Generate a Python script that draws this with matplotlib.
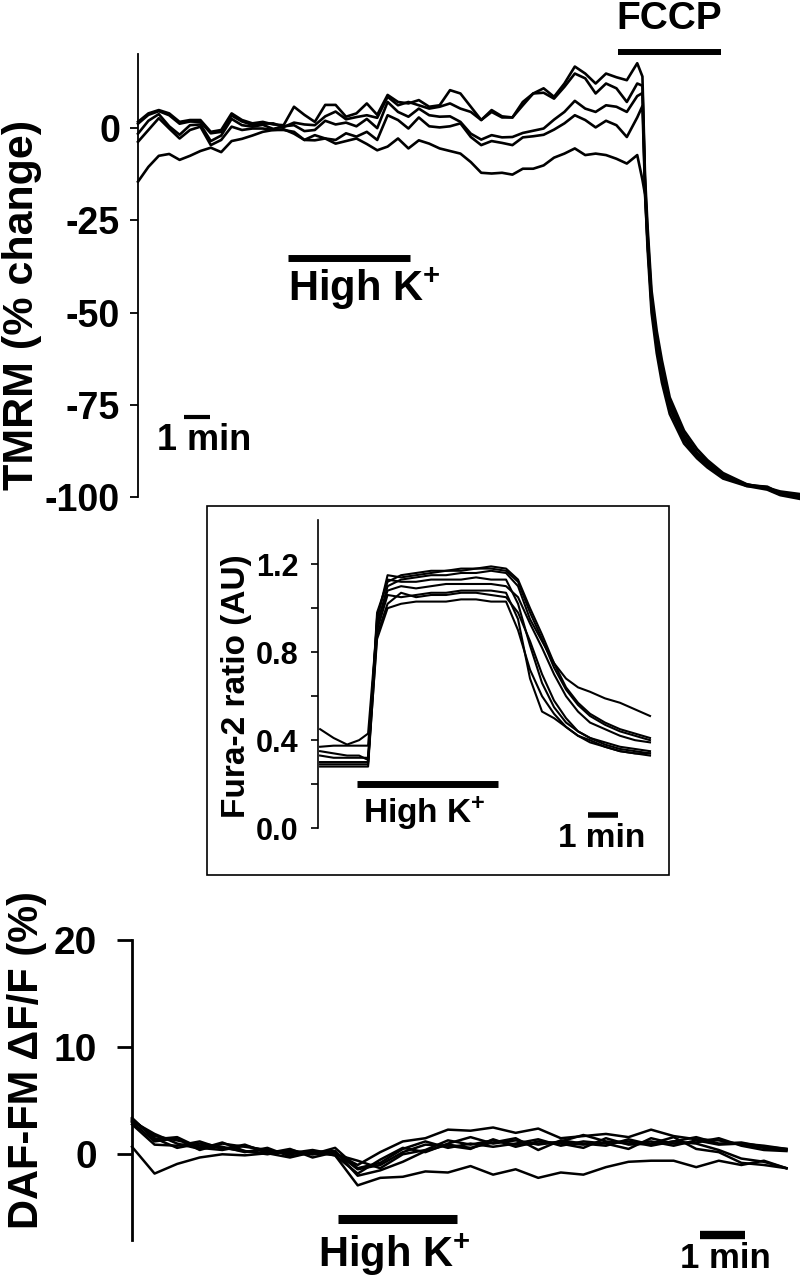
import matplotlib
matplotlib.use('Agg')
import matplotlib.pyplot as plt
from matplotlib.patches import Rectangle

plt.rcParams['font.family'] = ['Liberation Sans', 'DejaVu Sans']
plt.rcParams['font.weight'] = 'bold'
plt.rcParams['axes.unicode_minus'] = False
plt.rcParams['mathtext.fontset'] = 'custom'
plt.rcParams['mathtext.rm'] = 'Liberation Sans:bold'
plt.rcParams['mathtext.bf'] = 'Liberation Sans:bold'
plt.rcParams['mathtext.it'] = 'Liberation Sans:bold'

# ---------------- TMRM (top panel) ----------------
tmrm_time = [0.0, 0.4, 0.8, 1.2, 1.6, 2.0, 2.4, 2.8, 3.2, 3.6, 4.0, 4.4, 4.8, 5.2, 5.6,
             6.0, 6.4, 6.8, 7.2, 7.6, 8.0, 8.4, 8.8, 9.2, 9.6, 10.0, 10.4, 10.8, 11.2,
             11.6, 12.0, 12.4, 12.8, 13.2, 13.6, 14.0, 14.4, 14.8, 15.2, 15.6, 16.0,
             16.4, 16.8, 17.2, 17.6, 18.0, 18.4, 18.8, 19.2, 19.4, 19.5, 19.6, 19.75,
             19.95, 20.15, 20.45, 21.0, 21.5, 21.9, 22.5, 23.4, 24.2, 24.7, 25.45]
tmrm_a = [1.7, 4.0, 4.9, 4.0, 1.7, 2.2, 2.2, -1.0, -0.5, 4.0, 2.2, 1.3, 1.7, 1.0, 0.8, 5.8, 3.6, 1.7, 6.3, 6.3, 3.1, 4.0, 6.7, 3.6,
          9.0, 7.1, 6.7, 7.6, 5.8, 6.2, 10.3, 9.4, 5.8, 2.2, 4.9, 3.2, 2.9, 7.1, 9.4, 10.8, 8.5, 12.1, 16.7, 14.8, 12.1, 14.8, 13.8, 13.0, 17.6,
          14.0, -13, -27, -44, -55, -63, -73, -82, -87, -90, -93.5, -96.5, -97.8, -99.3, -100.0]
tmrm_b = [1.2, 3.6, 4.6, 3.5, 1.2, 1.8, 1.7, -1.4, -1.0, 3.4, 1.8, 0.9, 1.2, 1.3, 0.3, 1.5, 1.0, 0.8, 3.2, 4.5, 2.4, 3.0, 3.5, 2.8,
          8.5, 6.2, 7.1, 6.2, 5.3, 5.8, 6.7, 5.3, 4.4, 2.2, 4.4, 2.9, 2.9, 6.2, 9.4, 9.6, 8.0, 11.2, 14.8, 13.5, 9.4, 12.1, 10.8, 7.1, 12.1,
          11.5, -15, -29, -46, -57, -65, -74, -83, -88, -90.5, -94, -97, -98, -99.5, -100.5]
tmrm_c = [-1.5, 2.0, 3.8, 0.5, -1.8, 0.8, 1.0, -3.5, -2.0, 2.5, 0.8, 0.4, 0.9, -0.2, 0.5, 0.8, -0.8, -0.5, 2.0, 1.0, 1.5, 0.5, 2.5, 0.0,
          7.1, 4.4, 3.1, 5.3, 3.5, 3.1, 3.2, 1.7, -1.5, -3.1, -1.9, -2.5, -2.4, -1.3, -0.7, -0.1, 2.3, 4.4, 7.4, 5.3, 4.4, 6.2, 5.8, 4.4, 8.7,
          9.5, -16, -31, -48, -59, -67, -76, -84.5, -89, -91.5, -94.5, -96.8, -97.2, -99, -99.5]
tmrm_d = [-3.7, -0.5, 2.7, -0.1, -2.8, -0.5, 0.4, -4.6, -3.2, 0.4, -0.5, -0.1, -0.1, -0.5, -0.5, -1.0, -3.2, -1.9, -2.8, -3.2, -1.4, -2.3, -1.0, -3.2,
          3.5, 2.2, -0.1, 2.9, 0.5, 0.2, 0.5, 1.3, -2.4, -4.6, -3.5, -4.0, -4.6, -2.5, -2.2, -1.8, -0.4, 1.3, 3.5, 2.2, 0.2, 2.0, 0.8, -2.4, 2.9,
          6.0, -17, -33, -50, -61, -69, -77.5, -85.5, -89.5, -92, -95, -97, -97.5, -98.5, -99.2]
tmrm_e = [-14.5, -10.5, -7.5, -7.0, -8.6, -7.5, -6.2, -5.3, -6.5, -3.5, -2.9, -2.0, -1.0, -0.5, -0.3, -1.5, -3.2, -3.3, -2.8, -4.2, -3.5, -2.8, -4.3, -6.0,
          -5.0, -2.8, -5.5, -3.3, -4.2, -5.5, -6.2, -6.9, -9.2, -12.1, -12.3, -12.1, -12.6, -11.0, -11.0, -10.1, -8.0, -6.9, -5.5, -7.3, -6.9, -7.3, -8.3, -9.6, -7.3,
          -14.0, -18, -31, -47, -58, -66, -75, -84, -88.5, -91, -94, -96.6, -97.4, -99, -99.8]
tmrm_traces = [tmrm_a, tmrm_b, tmrm_c, tmrm_d, tmrm_e]
tmrm_ticks = [0, -25, -50, -75, -100]
tmrm_highk = [5.77, 10.46]
tmrm_fccp = [18.46, 22.42]
tmrm_scale = [1.77, 2.77]

# ---------------- Fura-2 (inset) ----------------
fura_time = [0, 0.45, 0.9, 1.3, 1.6, 1.9, 2.25, 2.7, 3.2, 3.7, 4.2, 4.7, 5.2, 5.7,
             6.2, 6.6, 7.0, 7.4, 7.8, 8.2, 8.6, 9.0, 9.5, 10.0, 10.5, 11.0]
fura_s1 = [0.30, 0.30, 0.30, 0.30, 0.30, 0.98, 1.12, 1.15, 1.16, 1.17, 1.17, 1.18, 1.18, 1.19,
           1.18, 1.13, 1.00, 0.88, 0.75, 0.64, 0.57, 0.52, 0.48, 0.45, 0.43, 0.41]
fura_s2 = [0.29, 0.29, 0.29, 0.29, 0.29, 0.95, 1.15, 1.14, 1.15, 1.16, 1.17, 1.17, 1.18, 1.18,
           1.17, 1.12, 0.98, 0.86, 0.73, 0.63, 0.56, 0.51, 0.47, 0.44, 0.42, 0.40]
fura_s3 = [0.37, 0.375, 0.375, 0.375, 0.375, 0.92, 1.10, 1.13, 1.14, 1.15, 1.15, 1.16, 1.16, 1.17,
           1.16, 1.10, 0.95, 0.85, 0.75, 0.68, 0.64, 0.62, 0.59, 0.57, 0.54, 0.51]
fura_s4 = [0.45, 0.41, 0.38, 0.40, 0.43, 0.93, 1.08, 1.10, 1.09, 1.10, 1.11, 1.11, 1.11, 1.11,
           1.10, 1.05, 0.93, 0.82, 0.70, 0.60, 0.53, 0.48, 0.45, 0.42, 0.40, 0.39]
fura_f1 = [0.33, 0.32, 0.32, 0.32, 0.32, 0.90, 1.06, 1.05, 1.06, 1.07, 1.07, 1.08, 1.08, 1.08,
           1.07, 0.95, 0.68, 0.53, 0.50, 0.46, 0.42, 0.40, 0.37, 0.35, 0.34, 0.33]
fura_f2 = [0.35, 0.34, 0.33, 0.33, 0.31, 0.96, 1.13, 1.12, 1.12, 1.13, 1.13, 1.13, 1.14, 1.13,
           1.13, 1.02, 0.83, 0.66, 0.55, 0.48, 0.44, 0.41, 0.38, 0.36, 0.35, 0.34]
fura_f3 = [0.28, 0.28, 0.28, 0.28, 0.28, 0.88, 1.02, 1.07, 1.05, 1.06, 1.06, 1.07, 1.07, 1.06,
           1.05, 0.98, 0.85, 0.70, 0.58, 0.50, 0.44, 0.41, 0.39, 0.37, 0.36, 0.35]
fura_f4 = [0.30, 0.30, 0.30, 0.30, 0.30, 0.86, 1.00, 1.02, 1.03, 1.03, 1.03, 1.04, 1.04, 1.03,
           1.03, 0.90, 0.72, 0.60, 0.52, 0.46, 0.42, 0.39, 0.37, 0.35, 0.34, 0.34]
fura_traces = [fura_s1, fura_s2, fura_s3, fura_s4, fura_f1, fura_f2, fura_f3, fura_f4]
fura_ticks = [0.0, 0.4, 0.8, 1.2]
fura_ticklabels = ['0.0', '0.4', '0.8', '1.2']
fura_minor = [0.2, 0.6, 1.0]
fura_highk = [1.23, 5.93]
fura_scale = [8.93, 9.93]

# ---------------- DAF-FM (bottom panel) ----------------
daf_time = [0.0, 0.5, 1.0, 1.5, 2.0, 2.5, 3.0, 3.5, 4.0, 4.5, 5.0, 5.5, 6.0, 6.5, 7.0,
            7.5, 8.0, 8.5, 9.0, 9.5, 10.0, 10.5, 11.0, 11.5, 12.0, 12.5, 13.0, 13.5, 14.0, 14.5]
daf_1 = [3.2, 1.7, 1.3, 0.8, 0.6, 0.3, 0.1, 0.2, 0.0, 0.1, -1.0, 0.2, 1.2, 1.5, 2.3,
         2.2, 2.5, 2.0, 2.4, 1.5, 1.7, 1.9, 1.6, 2.3, 1.7, 1.4, 1.3, 0.9, 0.6, 0.4]
daf_2 = [3.0, 1.2, 1.5, 0.4, 1.0, 0.7, 0.4, 0.0, 0.3, -0.1, -1.8, -0.5, 0.6, 0.2, 1.0,
         1.6, 1.0, 1.3, 0.9, 1.2, 1.8, 1.2, 1.0, 1.2, 0.8, 1.3, 0.9, 1.0, 0.8, 0.5]
daf_3 = [2.8, 0.9, 0.8, 1.2, 0.5, 0.9, 0.1, 0.5, -0.3, 0.2, -1.4, -1.0, 0.2, 0.9, 0.8,
         0.5, 1.4, 0.7, 1.2, 1.0, 0.6, 1.5, 0.9, 1.0, 1.6, 0.5, 0.2, -0.8, -1.0, -1.3]
daf_4 = [3.3, 1.5, 0.6, 1.0, 0.7, 0.2, 0.6, -0.2, 0.2, 0.3, -2.0, -1.5, -0.7, 0.3, 0.9,
         0.6, 1.1, 1.5, 0.4, 1.3, 1.0, 0.8, 1.4, 0.9, 1.2, 1.0, 0.4, -0.4, -0.7, -1.3]
daf_5 = [0.7, -1.8, -0.9, -0.3, 0.0, -0.1, 0.1, -0.3, 0.2, -0.1, -2.9, -2.2, -2.1, -1.6, -1.7,
         -1.1, -1.9, -1.4, -2.2, -1.7, -1.9, -1.2, -0.7, -0.6, -0.6, -1.2, -0.6, -1.0, -0.6, -1.3]
daf_6 = [3.1, 1.9, 1.0, 0.5, 1.1, 0.3, 0.0, 0.4, 0.0, 0.6, -1.3, -0.8, 0.5, 1.2, 0.6,
         1.0, 0.7, 1.0, 1.4, 0.8, 1.2, 1.0, 0.5, 1.5, 1.0, 1.1, 1.5, 0.8, 0.4, 0.3]
daf_7 = [3.4, 1.4, 1.6, 0.6, 0.4, 0.8, 0.3, 0.1, 0.4, 0.0, -0.6, -1.3, 0.0, 0.4, 1.3,
         0.9, 1.3, 0.9, 1.0, 1.1, 0.9, 1.1, 1.2, 0.8, 1.2, 1.6, 1.0, 1.1, 0.7, 0.5]
daf_traces = [daf_1, daf_2, daf_3, daf_4, daf_5, daf_6, daf_7]
daf_ticks = [0, 10, 20]
daf_highk = [4.56, 7.2]
daf_scale = [12.58, 13.58]

HIGHK = 'High K$^{+}$'

fig = plt.figure(figsize=(8, 12.8), dpi=100)


def style_axis(ax, lw):
    for s in ['top', 'right', 'bottom']:
        ax.spines[s].set_visible(False)
    ax.spines['left'].set_linewidth(lw)
    ax.set_xticks([])
    ax.patch.set_alpha(0)


# ---- top panel ----
ax1 = fig.add_axes([0.1725, 0.61172, 0.8275, 0.3458])
for tr in tmrm_traces:
    ax1.plot(tmrm_time, tr, color='black', lw=1.9, clip_on=False)
ax1.set_xlim(0, 25.46)
ax1.set_ylim(-100, 20)
style_axis(ax1, 1.3)
ax1.set_yticks(tmrm_ticks)
ax1.set_yticklabels([str(v) for v in tmrm_ticks])
ax1.tick_params(axis='y', direction='out', length=6, width=1.3, pad=7, labelsize=27)
ax1.plot(tmrm_highk, [-35.3, -35.3], color='black', lw=5, solid_capstyle='butt', clip_on=False)
ax1.text(tmrm_highk[0], -43.5, HIGHK, fontsize=30, ha='left', va='center')
ax1.plot(tmrm_fccp, [20.6, 20.6], color='black', lw=4.3, solid_capstyle='butt', clip_on=False)
ax1.text(sum(tmrm_fccp) / 2, 29.6, 'FCCP', fontsize=28, ha='center', va='center')
ax1.plot(tmrm_scale, [-78.3, -78.3], color='black', lw=3, solid_capstyle='butt', clip_on=False)
ax1.text(0.73, -84.8, '1 min', fontsize=26, ha='left', va='center')
fig.text(22 / 800, 1 - 305 / 1280, 'TMRM (% change)', rotation=90, fontsize=31,
         ha='center', va='center')

# ---- inset ----
fig.add_artist(Rectangle((0.25875, 0.31641), 0.5775, 0.2883, transform=fig.transFigure,
                         fill=False, lw=1.2, ec='black'))
ax2 = fig.add_axes([0.3975, 0.353, 0.415, 0.2406])
for tr in fura_traces:
    ax2.plot(fura_time, tr, color='black', lw=1.5, clip_on=False)
ax2.set_xlim(-0.07, 11.0)
ax2.set_ylim(0, 1.4)
style_axis(ax2, 1.2)
ax2.set_yticks(fura_ticks)
ax2.set_yticklabels(fura_ticklabels)
ax2.set_yticks(fura_minor, minor=True)
ax2.tick_params(axis='y', which='both', direction='out', length=5, width=1.2, pad=9, labelsize=22)
ax2.plot(fura_highk, [0.2, 0.2], color='black', lw=5, solid_capstyle='butt', clip_on=False)
ax2.text(1.43, 0.068, HIGHK, fontsize=24, ha='left', va='center')
ax2.plot(fura_scale, [0.06, 0.06], color='black', lw=4, solid_capstyle='butt', clip_on=False)
ax2.text(7.93, -0.045, '1 min', fontsize=24, ha='left', va='center')
fig.text(237 / 800, 1 - 686 / 1280, 'Fura-2 ratio (AU)', rotation=90, fontsize=24,
         ha='center', va='center')

# ---- bottom panel ----
ax3 = fig.add_axes([0.165, 0.03125, 0.8181, 0.23438])
for tr in daf_traces:
    ax3.plot(daf_time, tr, color='black', lw=1.8, clip_on=False)
ax3.set_xlim(0, 14.5)
ax3.set_ylim(-8, 20)
style_axis(ax3, 2.0)
ax3.set_yticks(daf_ticks)
ax3.set_yticklabels([str(v) for v in daf_ticks])
ax3.tick_params(axis='y', direction='out', length=11, width=2.0, pad=14, labelsize=28)
ax3.plot(daf_highk, [-6.07, -6.07], color='black', lw=6.5, solid_capstyle='butt', clip_on=False)
ax3.text(4.11, -9.4, HIGHK, fontsize=30, ha='left', va='center')
ax3.plot(daf_scale, [-7.5, -7.5], color='black', lw=6, solid_capstyle='butt', clip_on=False)
ax3.text(12.13, -9.7, '1 min', fontsize=25, ha='left', va='center')
fig.text(27 / 800, 1 - 1060 / 1280, 'DAF-FM ΔF/F (%)', rotation=90, fontsize=30,
         ha='center', va='center')

fig.savefig('out.png', dpi=100, facecolor='white')
